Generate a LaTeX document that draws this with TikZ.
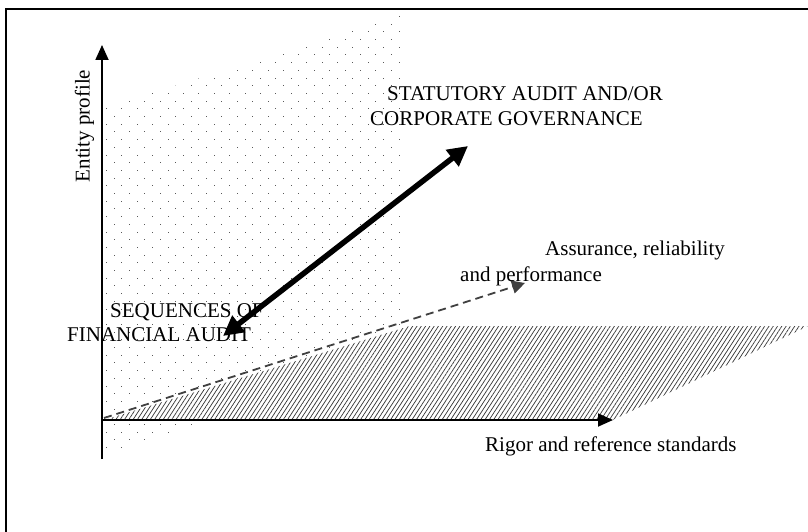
\documentclass[tikz,border=0pt]{standalone}
\usepackage{fontspec}
\setmainfont{Liberation Serif}
\usetikzlibrary{arrows.meta,patterns.meta}
\begin{document}
\begin{tikzpicture}[x=1pt,y=-1pt,
  lbl/.style={inner sep=0pt, font=\fontsize{21}{25}\selectfont, anchor=base west},
  axisline/.style={line width=1.8pt, -{Triangle[length=15pt,width=13pt]}},
  bigarrow/.style={line width=5.5pt, {Triangle[length=20pt,width=20pt]}-{Triangle[length=20pt,width=20pt]}},
  dasharrow/.style={line width=1.8pt, black!75, dash pattern=on 8pt off 5pt, -{Triangle[length=13pt,width=13pt]}},
  dotmark/.style={fill=black!65},
  hatchzone/.style={pattern={Lines[angle=57,distance=3.6pt,line width=0.7pt]}, pattern color=black!80}]
\useasboundingbox (0,0) rectangle (808,532);
\clip (0,0) rectangle (808,532);
\fill[white] (0,0) rectangle (808,532);
% frame
\draw[line width=2pt] (6,545) -- (6,9) -- (820,9);
% dotted zone
\begin{scope}
  \clip (104,108) -- (402,15) -- (402,362) -- (104,455) -- cycle;
  \foreach \j in {0,...,58} {
    \foreach \i in {0,...,19} {
      \fill[dotmark] ({round(106+\i*15.4+mod(\j,2)*7.7)},{round(16+\j*7.7)}) rectangle +(1.1,1.1);
    }
  }
\end{scope}
% hatched zone
\fill[white] (104,420) -- (410,326) -- (808,326) -- (613,420) -- cycle;
\fill[hatchzone] (104,420) -- (410,326) -- (808,326) -- (613,420) -- cycle;
% coordinates
\coordinate (ybot) at (102,459);
\coordinate (ytop) at (102,45);
\coordinate (xorig) at (102,420);
\coordinate (xend) at (613,420);
\coordinate (dstart) at (104,418);
\coordinate (dend) at (525,283);
\coordinate (blow) at (223,336);
\coordinate (bhigh) at (468,146);
% axes
\draw[axisline] (ybot) -- (ytop);
\draw[axisline] (xorig) -- (xend);
% dashed arrow
\draw[dasharrow] (dstart) -- (dend);
% texts
\node[lbl, rotate=90, anchor=base] (yl) at (89.5,126) {Entity profile};
\node[lbl] (st1) at (387,101) {STATUTORY AUDIT AND/OR};
\node[lbl] (st2) at (370,125) {CORPORATE GOVERNANCE};
\node[lbl] (as1) at (545,255) {Assurance, reliability};
\node[lbl] (as2) at (460,281) {and performance};
\node[lbl] (sq1) at (110,317) {SEQUENCES OF};
\node[lbl] (sq2) at (67,341.5) {FINANCIAL AUDIT};
\node[lbl] (xl) at (485,451) {Rigor and reference standards};
% thick double arrow
\draw[bigarrow] (blow) -- (bhigh);
\end{tikzpicture}
\end{document}
